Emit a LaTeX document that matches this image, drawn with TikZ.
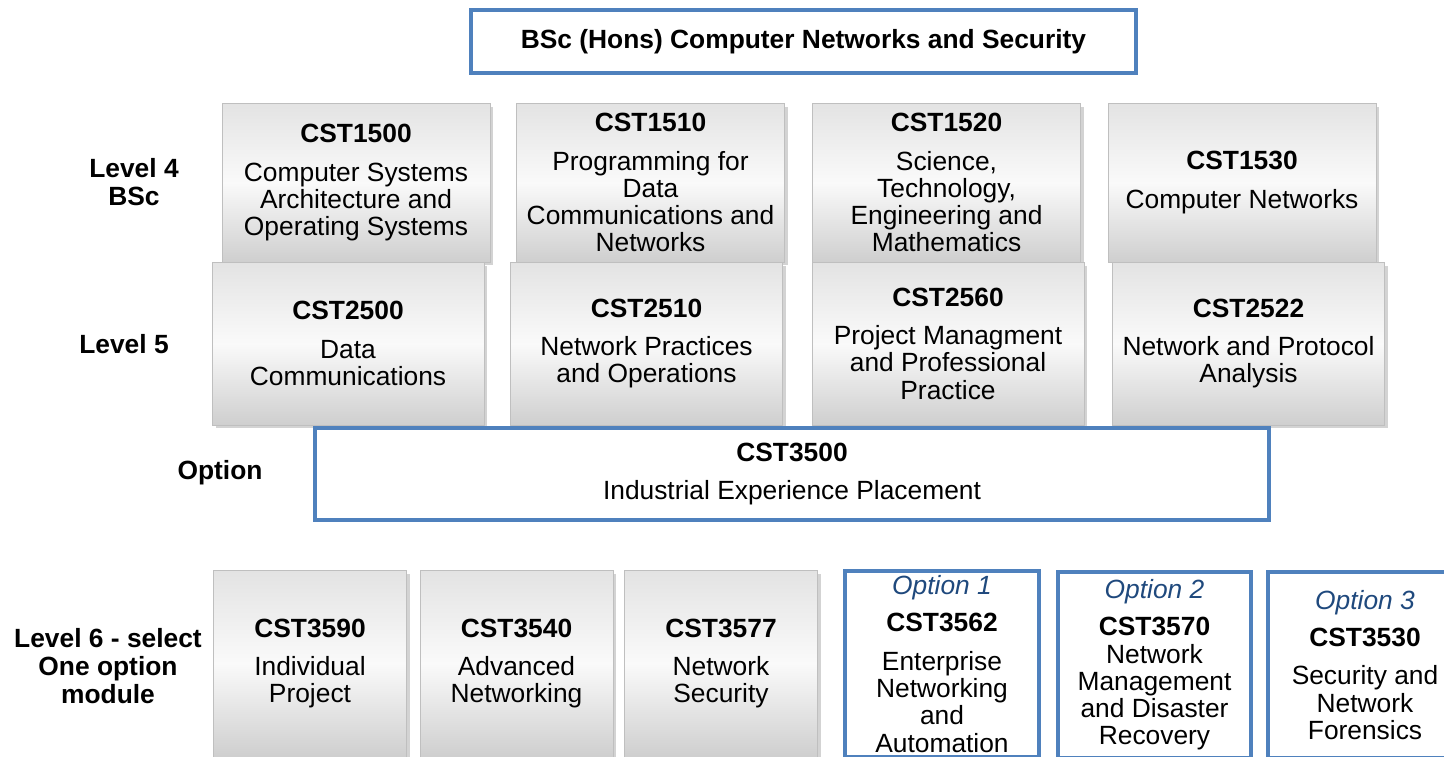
\documentclass[tikz,border=0pt]{standalone}
\usepackage{fontspec}
\setmainfont{Liberation Sans}
\usepackage{tikz}
\usetikzlibrary{shadows}

\definecolor{boxblue}{RGB}{79,129,189}
\definecolor{optblue}{RGB}{31,73,125}
\newcommand{\modfont}{\fontsize{15}{15.5}\selectfont}
\newcommand{\modcode}[1]{\textbf{#1}\\[6.5pt]}
\newcommand{\optname}[1]{{\color{optblue}\itshape #1}\\[5.5pt]}

\tikzset{
  modbox/.style={draw=gray!50, line width=0.4pt, top color=gray!22, bottom color=gray!38, middle color=gray!4,
    drop shadow={opacity=0.35, shadow xshift=0.07cm, shadow yshift=-0.07cm},
    align=center, inner sep=0pt, font=\modfont},
  bluebox/.style={draw=boxblue, line width=2.3pt, fill=white, align=center, inner sep=0pt, font=\modfont},
  levlabel/.style={align=center, font=\modfont\bfseries},
  row4/.style={modbox, minimum width=5.36cm, minimum height=3.18cm},
  row5/.style={modbox, minimum width=5.44cm, minimum height=3.26cm},
  row6/.style={modbox, minimum width=3.86cm, minimum height=3.74cm},
}

\begin{document}
\begin{tikzpicture}[x=0.02cm,y=-0.02cm]
        \useasboundingbox (0,0) rectangle (1444,757);
        \clip (0,0) rectangle (1444,757);
        % title
        \node[bluebox, minimum width=13.3cm, minimum height=1.26cm, font=\fontsize{15}{16}\selectfont\bfseries] (title) at (803.5,41.5) {BSc (Hons) Computer Networks and Security};
        % level labels
        \node[levlabel] (lev4) at (134,182) {Level 4\\BSc};
        \node[levlabel] (lev5) at (124,344) {Level 5};
        \node[levlabel] (levopt) at (220,473) {Option};
        \node[levlabel, font=\fontsize{15}{16}\selectfont\bfseries] (lev6) at (108,666) {Level 6 - select\\One option\\module};
        % level 4
        \node[row4] (cst1500) at (356,182.5) {\modcode{CST1500}Computer Systems\\Architecture and\\Operating Systems};
        \node[row4] (cst1510) at (650.5,182.5) {\modcode{CST1510}Programming for\\Data\\Communications and\\Networks};
        \node[row4] (cst1520) at (946.5,182.5) {\modcode{CST1520}Science,\\Technology,\\Engineering and\\Mathematics};
        \node[row4] (cst1530) at (1242,182.5) {\modcode{CST1530}Computer Networks};
        % level 5
        \node[row5] (cst2500) at (348,343.5) {\modcode{CST2500}Data\\Communications};
        \node[row5] (cst2510) at (646.5,343.5) {\modcode{CST2510}Network Practices\\and Operations};
        \node[row5] (cst2560) at (948,343.5) {\modcode{CST2560}Project Managment\\and Professional\\Practice};
        \node[row5] (cst2522) at (1248.5,343.5) {\modcode{CST2522}Network and Protocol\\Analysis};
        % placement option
        \node[bluebox, minimum width=19.08cm, minimum height=1.84cm] (cst3500) at (792,474) {\modcode{CST3500}Industrial Experience Placement};
        % level 6
        \node[row6] (cst3590) at (310,663.5) {\modcode{CST3590}Individual\\Project};
        \node[row6] (cst3540) at (516.5,663.5) {\modcode{CST3540}Advanced\\Networking};
        \node[row6] (cst3577) at (721,663.5) {\modcode{CST3577}Network\\Security};
        \node[bluebox, minimum width=3.88cm, minimum height=3.74cm] (cst3562) at (942,664) {\optname{Option 1}\modcode{CST3562}Enterprise\\Networking\\and\\Automation};
        \node[bluebox, minimum width=3.86cm, minimum height=3.74cm] (cst3570) at (1154.5,665) {\optname{Option 2}\textbf{CST3570}\\Network\\Management\\and Disaster\\Recovery};
        \node[bluebox, minimum width=3.88cm, minimum height=3.74cm] (cst3530) at (1365,665) {\optname{Option 3}\modcode{CST3530}Security and\\Network\\Forensics};
    \end{tikzpicture}
\end{document}
